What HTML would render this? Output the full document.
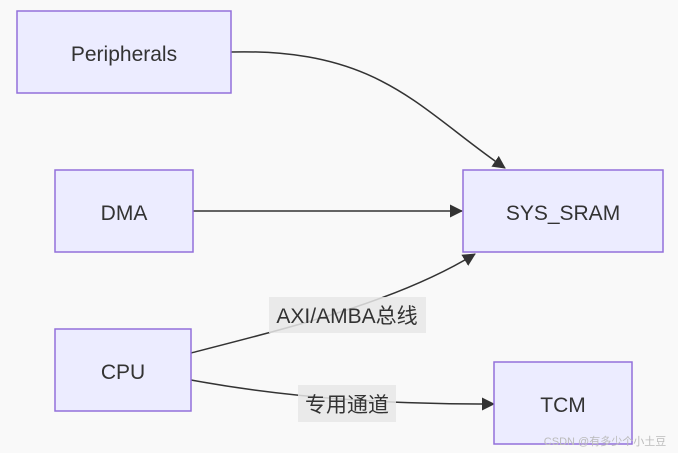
<!DOCTYPE html>
<html><head><meta charset="utf-8"><style>
html,body{margin:0;padding:0;background:#f9f9f9;}
svg{display:block}
text{font-family:"Liberation Sans","Noto Sans CJK SC",sans-serif;fill:#333;}
</style></head><body>
<svg width="678" height="453" viewBox="0 0 678 453" xmlns="http://www.w3.org/2000/svg">
<defs><marker id="a" markerWidth="13" markerHeight="13" refX="12" refY="6.5" orient="auto" markerUnits="userSpaceOnUse"><path d="M0,0 L13,6.5 L0,13 z" fill="#333"/></marker></defs>
<rect x="0" y="0" width="678" height="453" fill="#f9f9f9"/>
<g fill="none" stroke="#333" stroke-width="1.5">
<path d="M231,52 C380,48 420,110 505,168" marker-end="url(#a)"/>
<path d="M193,211 L462,211" marker-end="url(#a)"/>
<path d="M191,353 C300,325 400,300 475,254" marker-end="url(#a)"/>
<path d="M191,380 C300,400 400,404 494,404" marker-end="url(#a)"/>
</g>
<g fill="#ececff" stroke="#9370db" stroke-width="1.5">
<rect x="17" y="11" width="214" height="82"/>
<rect x="55" y="170" width="138" height="82"/>
<rect x="55" y="329" width="136" height="82"/>
<rect x="463" y="170" width="200" height="82"/>
<rect x="494" y="362" width="138" height="82"/>
</g>
<rect x="269" y="297" width="157" height="36" fill="#e8e8e8" opacity="0.85"/>
<rect x="298" y="385" width="98" height="37" fill="#e8e8e8" opacity="0.85"/>
<g font-size="21" text-anchor="middle">
<text x="124" y="61">Peripherals</text>
<text x="124" y="220">DMA</text>
<text x="123" y="379">CPU</text>
<text x="563" y="220">SYS_SRAM</text>
<text x="563" y="412">TCM</text>
<text x="347" y="323">AXI/AMBA总线</text>
<text x="347" y="412">专用通道</text>
</g>
<text x="605" y="445" font-size="11" text-anchor="middle" style="fill:#bbb">CSDN @有多少个小土豆</text>
</svg>
</body></html>
